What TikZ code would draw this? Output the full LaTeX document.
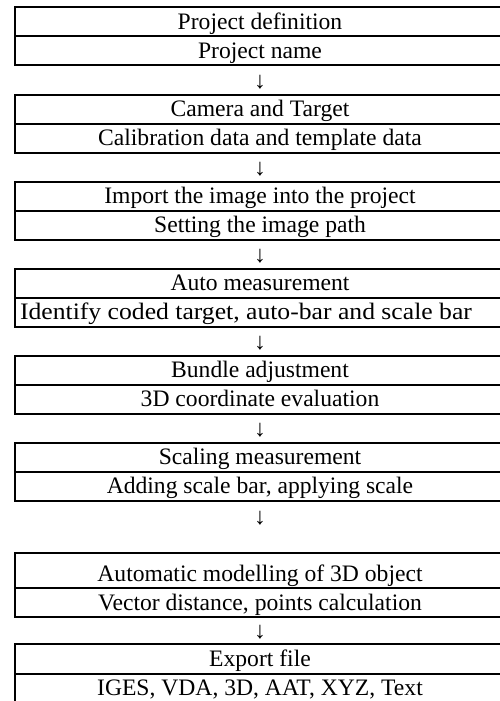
\documentclass[tikz,border=0pt]{standalone}
\usepackage{fontspec}
\usepackage{graphicx}
\setmainfont{Liberation Serif}
\usetikzlibrary{positioning}
\tikzset{
  rowtext/.style={anchor=base,inner sep=0pt,font=\fontsize{23.6}{28}\selectfont},
  rule/.style={line width=2pt}
}
\begin{document}
\begin{tikzpicture}[x=1pt,y=-1pt]
\useasboundingbox (0,0) rectangle (500,701);
% boxes: top edge / middle rule / bottom edge / two texts
\foreach \y/\m/\b/\ta/\tb [count=\i] in {
  7.5/36.5/65.5/{Project definition}/{Project name},
  94.5/123.5/152.5/{Camera and Target}/{Calibration data and template data},
  181.5/210.5/239.5/{Import the image into the project}/{Setting the image path},
  268.5/297.5/326.5/{Auto measurement}/{\scalebox{1.087}[1]{Identify coded target, auto-bar and scale bar}\hspace*{28pt}},
  355.5/384.5/413.5/{Bundle adjustment}/{3D coordinate evaluation},
  442.5/471.5/500.5/{Scaling measurement}/{Adding scale bar, applying scale},
  553/588/617/{Automatic modelling of 3D object}/{Vector distance, points calculation}}{
  \draw[rule] (500,\y) -- (15,\y) -- (15,\b) -- (500,\b);
  \draw[rule] (15,\m) -- (500,\m);
  \node[rowtext] (top\i) at (260,\m-7) {\ta};
  \node[rowtext] (sub\i) at (260,\b-7) {\tb};
}
% last box runs off the page
\draw[rule] (500,644) -- (15,644) -- (15,701);
\draw[rule] (15,674) -- (500,674);
\node[rowtext] (top8) at (260,674-8) {Export file};
\node[rowtext] (sub8) at (260,703-8) {IGES, VDA, 3D, AAT, XYZ, Text};
% arrows between the boxes
\foreach \v [count=\i] in {88.5,175.5,262.5,349.5,436.5,524,638}
  \node[rowtext] (arr\i) at (260,\v) {↓};
\end{tikzpicture}
\end{document}
